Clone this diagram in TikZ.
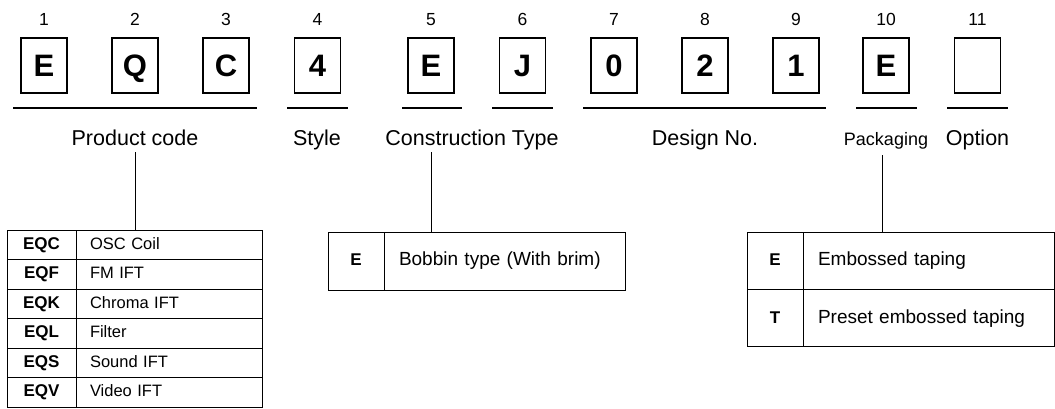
\documentclass[tikz,border=0pt]{standalone}
\usepackage{fontspec}
\setmainfont{Liberation Sans}
\usetikzlibrary{positioning}
\tikzset{%
  % Specifications for style of nodes:
            digit/.style = {rectangle, draw=black, line width=1.3pt,
                            minimum width=46pt, minimum height=55pt, inner sep=0pt,
                            text height=22.2pt, text depth=0pt,
                            font=\fontsize{31}{31}\selectfont\bfseries},
            num/.style = {anchor=base, inner sep=0pt, font=\fontsize{17.5}{18}\selectfont},
            grp/.style = {anchor=base, inner sep=0pt, font=\fontsize{21.5}{22}\selectfont},
            code/.style = {rectangle, draw=black, line width=1pt, inner sep=0pt, outer sep=0pt,
                            text height=12.2pt, text depth=3.4pt,
                            font=\fontsize{17}{17}\selectfont\bfseries},
            desc/.style = {rectangle, draw=black, line width=1pt, inner xsep=14pt, inner ysep=0pt,
                            text height=12.2pt, text depth=3.4pt,
                            outer sep=0pt, align=left, font=\fontsize{16.5}{17}\selectfont},
            wide/.style = {text height=13.8pt, text depth=4pt}
}
\begin{document}
\begin{tikzpicture}[x=1pt, y=1pt, node distance=0pt]
                \useasboundingbox (0,0) rectangle (1055,-408);

                % part number
                \node[digit] (b01) at (44,-65.5) {E};
                \node[digit] (b02) at (135,-65.5) {Q};
                \node[digit] (b03) at (226,-65.5) {C};
                \node[digit] (b04) at (317.5,-65.5) {4};
                \node[digit] (b05) at (431,-65.5) {E};
                \node[digit] (b06) at (522.5,-65.5) {J};
                \node[digit] (b07) at (614,-65.5) {0};
                \node[digit] (b08) at (705,-65.5) {2};
                \node[digit] (b09) at (796,-65.5) {1};
                \node[digit] (b10) at (886,-65.5) {E};
                \node[digit] (b11) at (977.5,-65.5) {};

                \node[num] (n01) at (44,-25) {1};
                \node[num] (n02) at (135,-25) {2};
                \node[num] (n03) at (226,-25) {3};
                \node[num] (n04) at (317.5,-25) {4};
                \node[num] (n05) at (431,-25) {5};
                \node[num] (n06) at (522.5,-25) {6};
                \node[num] (n07) at (614,-25) {7};
                \node[num] (n08) at (705,-25) {8};
                \node[num] (n09) at (796,-25) {9};
                \node[num] (n10) at (886,-25) {10};
                \node[num] (n11) at (977.5,-25) {11};

                \draw[line width=1.2pt] (13,-108) -- (257,-108);
                \draw[line width=1.2pt] (287,-108) -- (348,-108);
                \draw[line width=1.2pt] (402,-108) -- (462,-108);
                \draw[line width=1.2pt] (492,-108) -- (553,-108);
                \draw[line width=1.2pt] (583,-108) -- (826,-108);
                \draw[line width=1.2pt] (856,-108) -- (917,-108);
                \draw[line width=1.2pt] (947,-108) -- (1008,-108);

                \node[grp] (pcode) at (135,-145) {Product code};
                \node[grp] (style) at (317,-145) {Style};
                \node[grp] (ctype) at (472,-145) {Construction Type};
                \node[grp] (design) at (705,-145) {Design No.};
                \node[grp, font=\fontsize{18}{18}\selectfont] (pack) at (886,-145) {Packaging};
                \node[grp] (opt) at (977.5,-145) {Option};

                % product code table
                \node[code, minimum width=69pt, minimum height=29.5pt] (k01) at (41.5,-244.75) {EQC};
                \node[desc, text width=158pt, minimum height=29.5pt, right=of k01] (d01) {OSC Coil};
                \node[code, minimum width=69pt, minimum height=29.5pt, below=of k01] (k02) {EQF};
                \node[desc, text width=158pt, minimum height=29.5pt, right=of k02] (d02) {FM IFT};
                \node[code, minimum width=69pt, minimum height=29.5pt, below=of k02] (k03) {EQK};
                \node[desc, text width=158pt, minimum height=29.5pt, right=of k03] (d03) {Chroma IFT};
                \node[code, minimum width=69pt, minimum height=29.5pt, below=of k03] (k04) {EQL};
                \node[desc, text width=158pt, minimum height=29.5pt, right=of k04] (d04) {Filter};
                \node[code, minimum width=69pt, minimum height=29.5pt, below=of k04] (k05) {EQS};
                \node[desc, text width=158pt, minimum height=29.5pt, right=of k05] (d05) {Sound IFT};
                \node[code, minimum width=69pt, minimum height=29.5pt, below=of k05] (k06) {EQV};
                \node[desc, text width=158pt, minimum height=29.5pt, right=of k06] (d06) {Video IFT};

                % construction table
                \node[code, wide, minimum width=56pt, minimum height=58pt] (m01) at (356,-261) {E};
                \node[desc, wide, inner xsep=15pt, text width=211pt, minimum height=58pt, font=\fontsize{19}{19}\selectfont, right=of m01] (m02) {Bobbin type (With brim)};

                % packaging table
                \node[code, wide, minimum width=56pt, minimum height=57.2pt] (p01) at (775,-260.9) {E};
                \node[desc, wide, inner xsep=15pt, text width=221pt, minimum height=57.2pt, font=\fontsize{19}{19}\selectfont, right=of p01] (p02) {Embossed taping};
                \node[code, wide, minimum width=56pt, minimum height=57.2pt, below=of p01] (p03) {T};
                \node[desc, wide, inner xsep=15pt, text width=221pt, minimum height=57.2pt, font=\fontsize{19}{19}\selectfont, right=of p03] (p04) {Preset embossed taping};

                \coordinate (pc) at (135,-152);
                \coordinate (ct) at (431,-152);
                \coordinate (pk) at (882.5,-155);
                \draw[line width=1pt] (pc) -- (pc |- d01.north);
                \draw[line width=1pt] (ct) -- (ct |- m02.north);
                \draw[line width=1pt] (pk) -- (pk |- p02.north);

\end{tikzpicture}
\end{document}
